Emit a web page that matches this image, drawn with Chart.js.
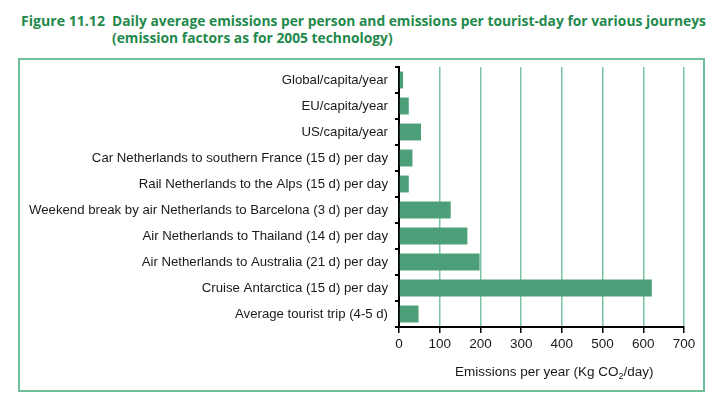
<!DOCTYPE html>
<html>
<head>
<meta charset="utf-8">
<script src="https://cdn.jsdelivr.net/npm/chart.js@4.4.1/dist/chart.umd.min.js"></script>
<style>
  html, body { margin: 0; padding: 0; background: #fff; }
  #wrap { position: relative; width: 711px; height: 397px; overflow: hidden; }
  #frame { position: absolute; left: 18px; top: 58px; width: 683px; height: 330px; border: 2px solid #6fbf98; }
  canvas { position: absolute; left: 0; top: 0; }
  .t { position: absolute; font-family: "Open Sans", "Noto Sans", sans-serif; font-weight: 700; font-size: 15px; color: #1f8a4c; white-space: nowrap; transform-origin: 0 0; line-height: 16px; }
</style>
</head>
<body>
<div id="wrap">
  <div id="frame"></div>
  <div class="t" id="t0" style="left:21px;top:12px;">Figure 11.12</div>
  <div class="t" id="t1" style="left:112px;top:12px;">Daily average emissions per person and emissions per tourist-day for various journeys</div>
  <div class="t" id="t2" style="left:112px;top:29px;">(emission factors as for 2005 technology)</div>
  <canvas id="c" width="711" height="397"></canvas>
</div>
<script>
const categories = [
  "Global/capita/year",
  "EU/capita/year",
  "US/capita/year",
  "Car Netherlands to southern France (15 d) per day",
  "Rail Netherlands to the Alps (15 d) per day",
  "Weekend break by air Netherlands to Barcelona (3 d) per day",
  "Air Netherlands to Thailand (14 d) per day",
  "Air Netherlands to Australia (21 d) per day",
  "Cruise Antarctica (15 d) per day",
  "Average tourist trip (4-5 d)"
];
const emissions = [10, 24, 54, 33, 24, 127, 168, 198, 621, 48];
const xTickValues = [0, 100, 200, 300, 400, 500, 600, 700];
const axisTitleParts = ["Emissions per year (Kg CO", "2", "/day)"];

// Fit the title to the reference width
(function () {
  const t0 = document.getElementById('t0');
  const t1 = document.getElementById('t1');
  const t2 = document.getElementById('t2');
  const s1 = 594 / t1.getBoundingClientRect().width;
  const s0 = 84 / t0.getBoundingClientRect().width;
  t1.style.transform = 'scaleX(' + s1 + ')';
  t2.style.transform = 'scaleX(' + s1 + ')';
  t0.style.transform = 'scaleX(' + s0 + ')';
})();

const xTitlePlugin = {
  id: 'xTitle',
  afterDraw(chart) {
    const ctx = chart.ctx;
    const a = chart.chartArea;
    ctx.save();
    ctx.fillStyle = '#1a1a1a';
    const big = '13.5px "Liberation Sans", Arial, sans-serif';
    const small = '9px "Liberation Sans", Arial, sans-serif';
    ctx.font = big;
    const w0 = ctx.measureText(axisTitleParts[0]).width;
    const w2 = ctx.measureText(axisTitleParts[2]).width;
    ctx.font = small;
    const w1 = ctx.measureText(axisTitleParts[1]).width;
    const total = w0 + w1 + w2;
    const cx = a.left + (a.right - a.left) * 0.545;
    let x = cx - total / 2;
    const y = a.bottom + 49;
    ctx.textBaseline = 'alphabetic';
    ctx.textAlign = 'left';
    ctx.font = big;
    ctx.fillText(axisTitleParts[0], x, y);
    x += w0;
    ctx.font = small;
    ctx.fillText(axisTitleParts[1], x, y + 3);
    x += w1;
    ctx.font = big;
    ctx.fillText(axisTitleParts[2], x, y);
    ctx.restore();
  }
};

new Chart(document.getElementById('c'), {
  type: 'bar',
  data: {
    labels: categories,
    datasets: [{
      data: emissions,
      backgroundColor: '#4c9f79',
      borderWidth: 0,
      categoryPercentage: 1.0,
      barPercentage: 0.65
    }]
  },
  options: {
    indexAxis: 'y',
    responsive: false,
    animation: false,
    devicePixelRatio: 1,
    layout: { padding: { left: 0, right: 27, top: 67, bottom: 10 } },
    plugins: { legend: { display: false }, tooltip: { enabled: false }, title: { display: false } },
    scales: {
      y: {
        type: 'category',
        grid: { display: true, drawOnChartArea: false, drawTicks: true, tickLength: 4, tickColor: '#000', offset: true, lineWidth: 2 },
        border: { color: '#000', width: 2 },
        ticks: { color: '#1a1a1a', font: { family: '"Liberation Sans", Arial, sans-serif', size: 13.2 }, padding: 7 },
        afterFit(s) { s.width = 399; }
      },
      x: {
        type: 'linear',
        min: xTickValues[0],
        max: xTickValues[xTickValues.length - 1],
        afterBuildTicks(s) { s.ticks = xTickValues.map(v => ({ value: v })); },
        grid: {
          color: (c) => (c.tick && c.tick.value === 0) ? 'rgba(0,0,0,0)' : '#7cc4a2',
          lineWidth: 1.5,
          tickColor: '#000',
          tickLength: 6
        },
        border: { color: '#000', width: 2 },
        ticks: { color: '#1a1a1a', font: { family: '"Liberation Sans", Arial, sans-serif', size: 13.5 }, padding: 3 },
        afterFit(s) { s.height = 60; }
      }
    }
  },
  plugins: [xTitlePlugin]
});
</script>
</body>
</html>
